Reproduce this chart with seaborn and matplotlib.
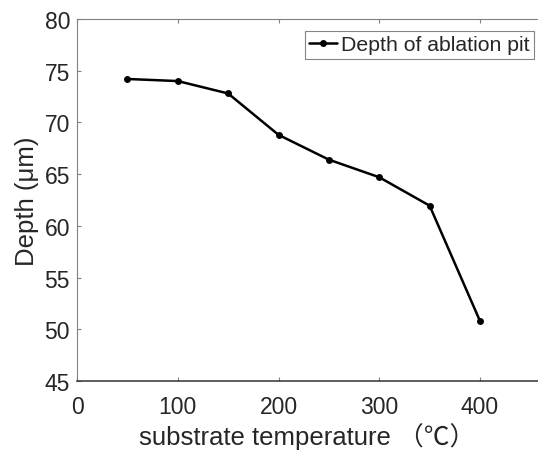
import matplotlib
matplotlib.use("Agg")
import matplotlib.pyplot as plt
import seaborn as sns
import pandas as pd

temperature = [50, 100, 150, 200, 250, 300, 350, 400]
depth = [74.2, 74.0, 72.8, 68.8, 66.4, 64.7, 61.95, 50.8]
xticks = [0, 100, 200, 300, 400]
yticks = [45, 50, 55, 60, 65, 70, 75, 80]

sns.set_theme(style="ticks")
plt.rcParams['font.family'] = ['Liberation Sans', 'Noto Sans CJK SC', 'DejaVu Sans']
plt.rcParams['axes.unicode_minus'] = False

df = pd.DataFrame({"temperature": temperature, "depth": depth})

W, H = 538, 452
fig = plt.figure(figsize=(W / 100, H / 100), dpi=100)
left, right, top, bottom = 77, 538, 20, 382
ax = fig.add_axes([left / W, 1 - bottom / H, (right - left) / W, (bottom - top) / H])
dark = "#262626"
gray = "#808080"
sns.lineplot(data=df, x="temperature", y="depth", ax=ax, color="black",
             marker="o", markersize=5, linewidth=1.8, markeredgewidth=0,
             label="Depth of ablation pit")
ax.set_xlim(0, (right - left) / (403 / 400))
ax.set_ylim(45, 80)
ax.set_xticks(xticks)
ax.set_yticks(yticks)
ax.tick_params(direction="in", top=True, right=False, length=3, width=0.8,
               colors=gray, labelsize=16.5, labelcolor=dark)
ax.tick_params(axis="x", pad=10)
ax.tick_params(axis="y", pad=5)
ax.spines["right"].set_visible(False)
ax.spines["left"].set_color(gray)
ax.spines["top"].set_color(gray)
ax.spines["left"].set_linewidth(0.8)
ax.spines["top"].set_linewidth(0.8)
ax.spines["bottom"].set_color("#333333")
ax.spines["bottom"].set_linewidth(1.1)
ax.set_xlabel("substrate temperature （℃）", fontsize=18.5, color=dark, labelpad=3)
ax.set_ylabel("Depth (μm)", fontsize=18.5, color=dark, labelpad=4)
leg = ax.legend(loc="upper right", fontsize=15.3, frameon=True, fancybox=False,
                handlelength=1.3, handletextpad=0.2, borderpad=0.2,
                borderaxespad=0, edgecolor="#666666",
                bbox_to_anchor=(534 / W, 1 - 32 / H), bbox_transform=fig.transFigure)
leg.get_frame().set_linewidth(0.8)
for t in leg.get_texts():
    t.set_color(dark)
fig.savefig("out.png", dpi=100)
